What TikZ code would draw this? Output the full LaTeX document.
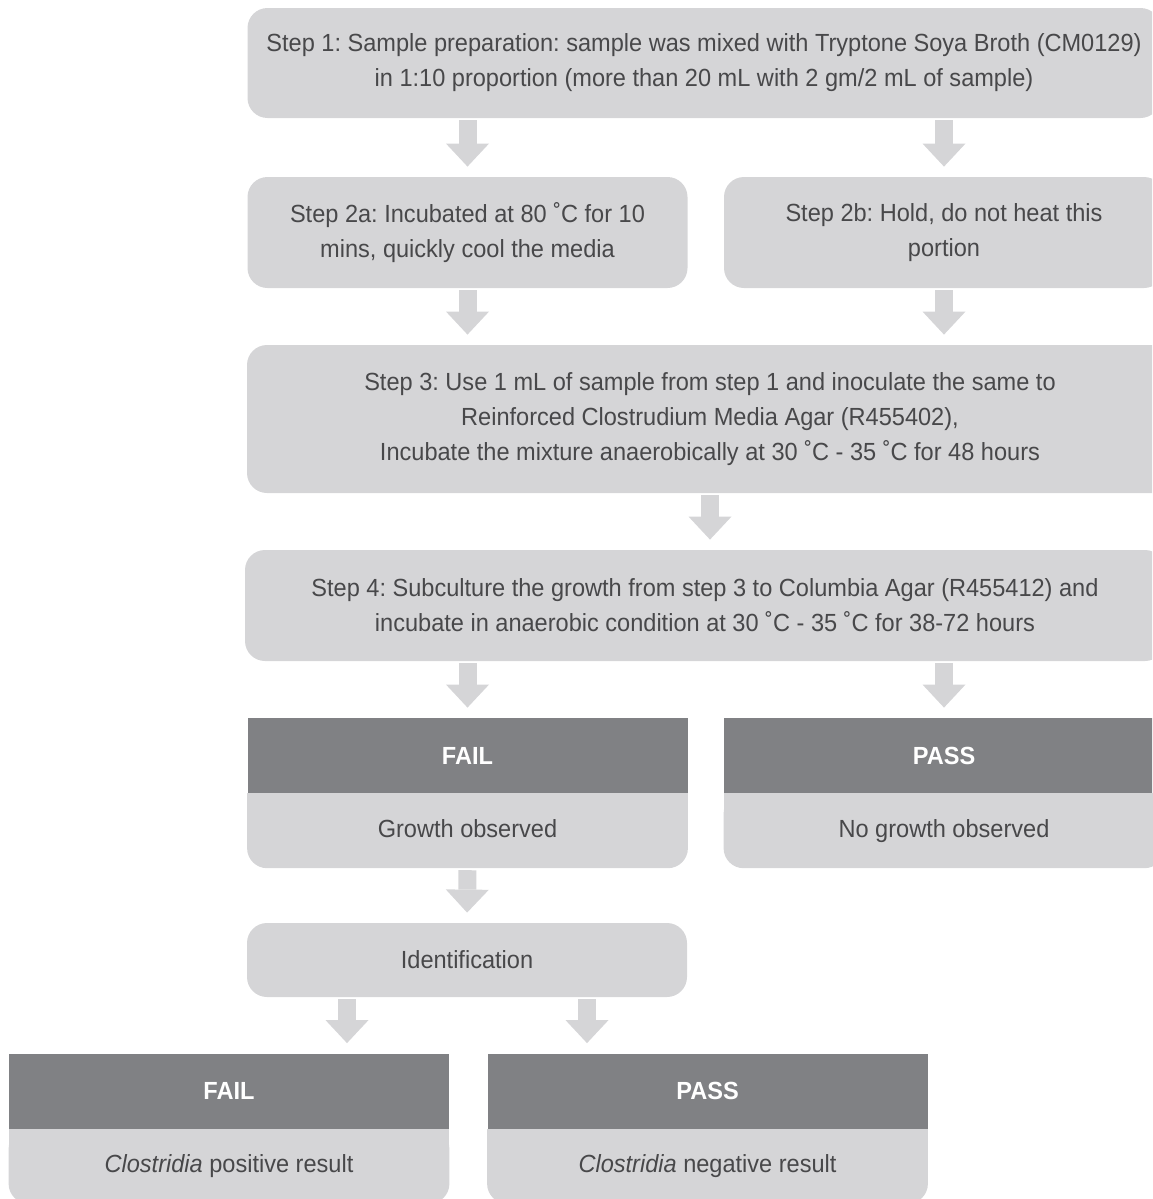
\documentclass[tikz,border=0pt]{standalone}
\usepackage{fontspec}
\setmainfont{Liberation Sans}[FakeStretch=0.95]
\usetikzlibrary{arrows.meta, positioning, calc, backgrounds}
\definecolor{cStep}{RGB}{213, 213, 215}
\definecolor{cHead}{RGB}{128, 129, 132}
\definecolor{tDark}{RGB}{72, 72, 74}
\frenchspacing

\begin{document}
\begin{tikzpicture}[
    x=0.5pt, y=-0.5pt,
    font=\fontsize{12.4}{17.5}\selectfont,
    block/.style={
        fill=cStep,
        rounded corners=10pt,
        align=center,
        text=tDark,
        inner sep=0pt,
        minimum width=#1
    },
    head/.style={
        fill=cHead,
        text=white,
        font=\fontsize{12.4}{14}\selectfont\bfseries,
        minimum width=220pt,
        minimum height=37.5pt,
        inner sep=0pt
    },
    body/.style={
        text=tDark,
        text height=9pt,
        text depth=2.5pt,
        minimum width=220pt,
        minimum height=37pt,
        inner sep=0pt
    },
    arrow/.style={
        draw=cStep,
        line width=9pt,
        -{Triangle[width=21.5pt, length=11.5pt, line width=0pt]},
        shorten <=1pt,
        shorten >=5pt
    }
]

\useasboundingbox (0,0) rectangle (1152,1199);
\clip (0,0) rectangle (1152,1199);

\node[block=456.5pt, minimum height=55pt] (s1) at (704, 63) {
    Step 1: Sample preparation: sample was mixed with Tryptone Soya Broth (CM0129)\\
    in 1:10 proportion (more than 20 mL with 2 gm/2 mL of sample)
};

\node[block=220pt, minimum height=55.5pt] (s2a) at (467.5, 232.5) {
    Step 2a: Incubated at 80 ˚C for 10\\
    mins, quickly cool the media
};
\node[block=220pt, minimum height=55.5pt] (s2b) at (944, 232.5) {
    Step 2b: Hold, do not heat this\\
    portion
};

\node[block=463pt, minimum height=74pt] (s3) at (710, 419) {
    Step 3: Use 1 mL of sample from step 1 and inoculate the same to\\
    Reinforced Clostrudium Media Agar (R455402),\\
    Incubate the mixture anaerobically at 30 ˚C - 35 ˚C for 48 hours
};

\node[block=460pt, minimum height=55.5pt] (s4) at (705, 605.5) {
    Step 4: Subculture the growth from step 3 to Columbia Agar (R455412) and\\
    incubate in anaerobic condition at 30 ˚C - 35 ˚C for 38-72 hours
};

% Results
\node[head] (fhead1) at (467.5, 755.5) {FAIL};
\node[body, below=0pt of fhead1] (fbody1) {Growth observed};
\node[head] (phead1) at (944, 755.5) {PASS};
\node[body, below=0pt of phead1] (pbody1) {No growth observed};

\node[block=220pt, minimum height=37pt] (ident) at (467, 960) {Identification};

\node[head] (fhead2) at (229, 1091) {FAIL};
\node[body, below=0pt of fhead2] (fbody2) {\textit{Clostridia} positive result};
\node[head] (phead2) at (707.5, 1091) {PASS};
\node[body, below=0pt of phead2] (pbody2) {\textit{Clostridia} negative result};

\begin{scope}[on background layer]
    \foreach \b in {fbody1, pbody1, fbody2, pbody2} {
        \fill[cStep, rounded corners=10pt] (\b.north west) rectangle (\b.south east);
        \fill[cStep] (\b.north west) rectangle (\b.east);
    }
\end{scope}

\draw[arrow] (s1.south -| s2a.north) -- (s2a.north);
\draw[arrow] (s1.south -| s2b.north) -- (s2b.north);
\draw[arrow] (s2a.south) -- (s2a.south |- s3.north);
\draw[arrow] (s2b.south) -- (s2b.south |- s3.north);
\draw[arrow] (s3.south) -- (s3.south |- s4.north);
\draw[arrow] (s4.south -| fhead1.north) -- (fhead1.north);
\draw[arrow] (s4.south -| phead1.north) -- (phead1.north);
\draw[arrow] (fbody1.south) -- (ident.north);

\coordinate (idl) at ($(ident.south)+(-120,0)$);
\coordinate (idr) at ($(ident.south)+(120,0)$);
\draw[arrow] (idl) -- (idl |- fhead2.north);
\draw[arrow] (idr) -- (idr |- phead2.north);

\end{tikzpicture}
\end{document}
